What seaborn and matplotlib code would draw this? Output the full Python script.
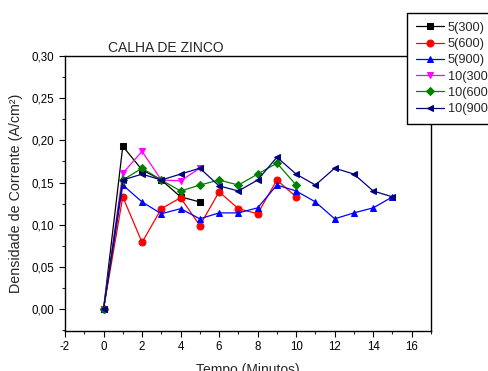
import numpy as np
import pandas as pd
import matplotlib
matplotlib.use("Agg")
import matplotlib.pyplot as plt
from matplotlib.ticker import MultipleLocator, FuncFormatter
import seaborn as sns

series_names = ["5(300)", "5(600)", "5(900)", "10(300)", "10(600)", "10(900)"]
t_5_300 = [0, 1, 2, 3, 4, 5]
v_5_300 = [0.0, 0.193, 0.165, 0.153, 0.133, 0.127]
t_5_600 = [0, 1, 2, 3, 4, 5, 6, 7, 8, 9, 10]
v_5_600 = [0.0, 0.133, 0.079, 0.119, 0.132, 0.099, 0.139, 0.119, 0.113, 0.153, 0.133]
t_5_900 = [0, 1, 2, 3, 4, 5, 6, 7, 8, 9, 10, 11, 12, 13, 14, 15]
v_5_900 = [0.0, 0.147, 0.127, 0.113, 0.119, 0.107, 0.114, 0.114, 0.120, 0.147, 0.140,
           0.127, 0.107, 0.114, 0.120, 0.133]
t_10_300 = [0, 1, 2, 3, 4, 5]
v_10_300 = [0.0, 0.161, 0.187, 0.153, 0.152, 0.167]
t_10_600 = [0, 1, 2, 3, 4, 5, 6, 7, 8, 9, 10]
v_10_600 = [0.0, 0.153, 0.167, 0.153, 0.140, 0.147, 0.153, 0.147, 0.160, 0.173, 0.147]
t_10_900 = [0, 1, 2, 3, 4, 5, 6, 7, 8, 9, 10, 11, 12, 13, 14, 15]
v_10_900 = [0.0, 0.153, 0.160, 0.153, 0.160, 0.167, 0.146, 0.140, 0.153, 0.180, 0.160,
            0.147, 0.167, 0.160, 0.140, 0.133]

title = "CALHA DE ZINCO"
xlabel = "Tempo (Minutos)"
ylabel = "Densidade de Corrente (A/cm²)"

times = [t_5_300, t_5_600, t_5_900, t_10_300, t_10_600, t_10_900]
vals = [v_5_300, v_5_600, v_5_900, v_10_300, v_10_600, v_10_900]
rows = []
for name, ts, vs in zip(series_names, times, vals):
    for t, v in zip(ts, vs):
        rows.append({"Tempo": t, "Valor": v, "Serie": name})
df = pd.DataFrame(rows)

colors = {"5(300)": "#000000", "5(600)": "#ff0000", "5(900)": "#0000ff",
          "10(300)": "#ff00ff", "10(600)": "#008000", "10(900)": "#000080"}
markers = {"5(300)": "s", "5(600)": "o", "5(900)": "^",
           "10(300)": "v", "10(600)": "D", "10(900)": "<"}

sns.set_style("ticks")
plt.rcParams["font.family"] = ["Liberation Sans", "DejaVu Sans"]

fig = plt.figure(figsize=(4.89, 3.71), dpi=100)
ax = fig.add_axes([65/489, 1-331/371, (431-65)/489, (331-56)/371])

for name in series_names:
    sub = df[df["Serie"] == name]
    ms = 4.2 if markers[name] == "D" else 5.0
    sns.lineplot(data=sub, x="Tempo", y="Valor", ax=ax, color=colors[name],
                 marker=markers[name], markersize=ms, markeredgecolor=colors[name],
                 linewidth=0.9, label=name, sort=False, errorbar=None)

ax.set_xlim(-2, 17)
ax.set_ylim(-0.026, 0.30)
ax.xaxis.set_major_locator(MultipleLocator(2))
ax.xaxis.set_minor_locator(MultipleLocator(1))
ax.yaxis.set_major_locator(MultipleLocator(0.05))
ax.yaxis.set_minor_locator(MultipleLocator(0.025))
ax.xaxis.set_major_formatter(FuncFormatter(lambda v, p: f"{v:.0f}"))
ax.yaxis.set_major_formatter(FuncFormatter(lambda v, p: f"{v:.2f}".replace(".", ",")))
ax.tick_params(axis="both", which="major", direction="out", length=4, width=0.8,
               labelsize=8.3, colors="black")
ax.tick_params(axis="both", which="minor", direction="out", length=2, width=0.8)
for s in ax.spines.values():
    s.set_visible(True)
    s.set_color("black")
    s.set_linewidth(1.0)

ax.set_xlabel(xlabel, fontsize=10, labelpad=7)
ax.set_ylabel(ylabel, fontsize=10.3, labelpad=6)
fig.text(108/489, 1-48/371, title, fontsize=10, ha="left", va="center")

leg = ax.legend(loc="upper left", bbox_to_anchor=(407/489, 1-13/371),
                bbox_transform=fig.transFigure, borderaxespad=0, frameon=True,
                fancybox=False, edgecolor="black", framealpha=1, fontsize=9.2,
                handlelength=2.2, handletextpad=0.3, labelspacing=0.33,
                borderpad=0.7)
leg.get_frame().set_linewidth(1.0)

fig.savefig("out.png", dpi=100)
